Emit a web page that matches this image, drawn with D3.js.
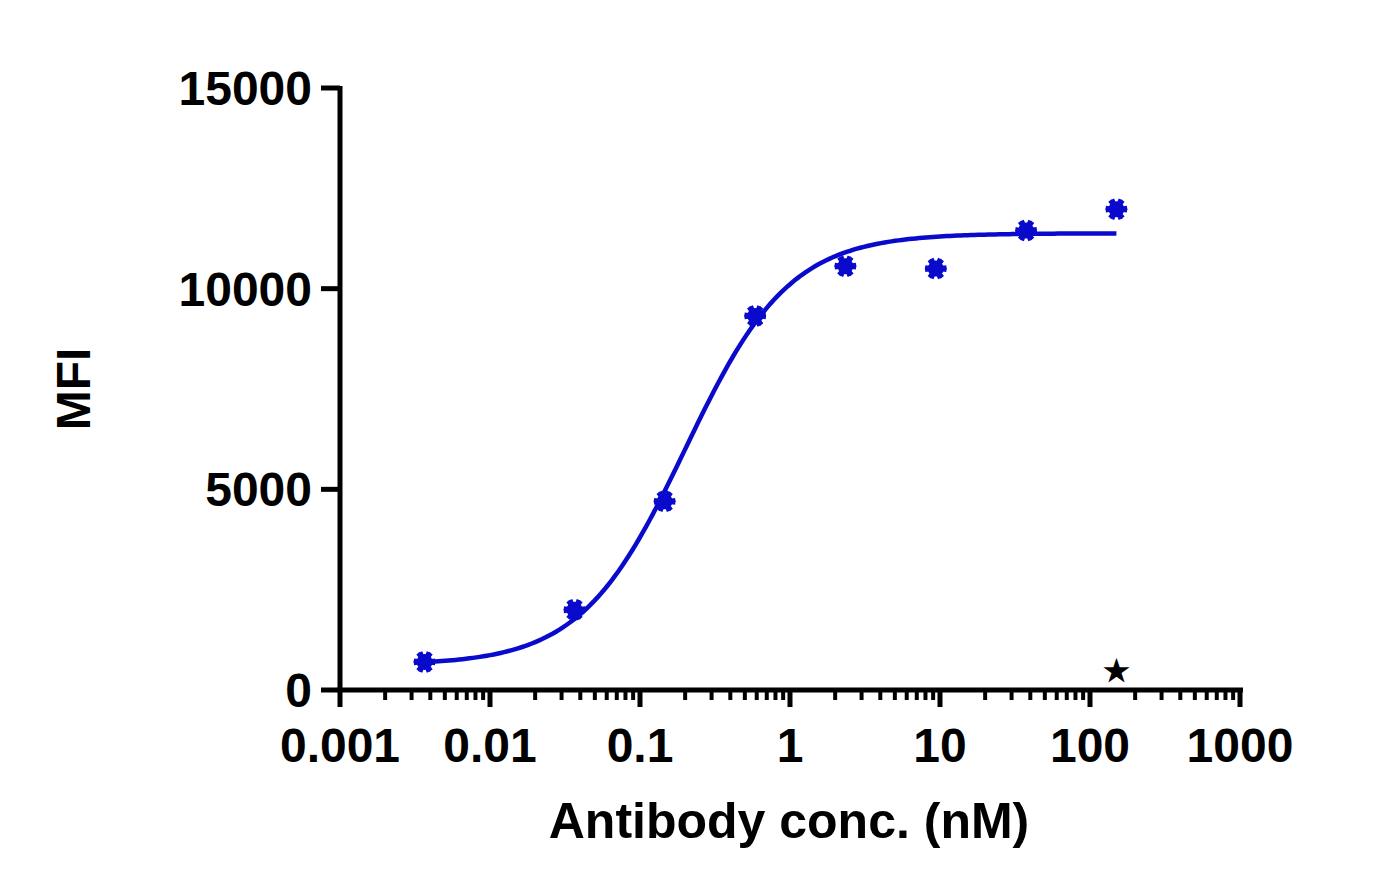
<!DOCTYPE html><html><head><script src="https://cdn.jsdelivr.net/npm/d3@7"></script>
<style>body{margin:0;background:#fff}text{font-family:"Liberation Sans",Arial,sans-serif;font-weight:bold}</style></head><body>
<svg id="c" width="1394" height="893"></svg>
<script>
const conc=[0.00366,0.0366,0.146,0.586,2.34,9.375,37.5,150];
const mfi=[700,2000,4700,9320,10560,10500,11450,11980];
const fit={bottom:620,top:11380,ec50:0.2,hill:1.25};
const yTicks=[0,5000,10000,15000];
const xTicks=[0.001,0.01,0.1,1,10,100,1000];
const svg=d3.select("#c");
const x=d3.scaleLog().domain([0.001,1000]).range([340,1240]);
const y=d3.scaleLinear().domain([0,15000]).range([690,88]);
const blue="#0a0acd";
const xa=svg.append("g").attr("transform","translate(0,690)");
const minors=[];for(let e=-3;e<3;e++)for(let m=2;m<=9;m++)minors.push(m*Math.pow(10,e));
xa.selectAll(".mi").data(minors).join("line").attr("x1",d=>x(d)).attr("x2",d=>x(d)).attr("y1",0).attr("y2",10).attr("stroke","#000").attr("stroke-width",4);
xa.selectAll(".ma").data(xTicks).join("line").attr("x1",d=>x(d)).attr("x2",d=>x(d)).attr("y1",0).attr("y2",17).attr("stroke","#000").attr("stroke-width",5);
xa.append("line").attr("x1",337).attr("x2",1243).attr("stroke","#000").attr("stroke-width",5);
xa.selectAll(".tl").data(xTicks).join("text").attr("x",d=>x(d)).attr("y",72).attr("text-anchor","middle").attr("font-size",48).text(d=>d>=1?d3.format("d")(d):String(d));
const ya=svg.append("g");
ya.append("line").attr("x1",340).attr("x2",340).attr("y1",86).attr("y2",692).attr("stroke","#000").attr("stroke-width",5);
ya.selectAll(".t").data(yTicks).join("line").attr("x1",321).attr("x2",340).attr("y1",d=>y(d)).attr("y2",d=>y(d)).attr("stroke","#000").attr("stroke-width",5);
ya.selectAll(".l").data(yTicks).join("text").attr("x",312).attr("y",d=>y(d)+17).attr("text-anchor","end").attr("font-size",48).text(d=>d);
svg.append("text").attr("x",789).attr("y",838).attr("text-anchor","middle").attr("font-size",50).text("Antibody conc. (nM)");
svg.append("text").attr("transform","translate(90,389) rotate(-90)").attr("text-anchor","middle").attr("font-size",48).text("MFI");
const f=c=>fit.bottom+(fit.top-fit.bottom)/(1+Math.pow(fit.ec50/c,fit.hill));
const cs=d3.range(0,201).map(i=>Math.pow(10,Math.log10(conc[0])+i/200*(Math.log10(conc[conc.length-1])-Math.log10(conc[0]))));
svg.append("path").attr("d",d3.line().x(d=>x(d)).y(d=>y(f(d)))(cs)).attr("fill","none").attr("stroke",blue).attr("stroke-width",4.5);
const g=svg.selectAll(".p").data(conc.map((c,i)=>[c,mfi[i]])).join("g").attr("transform",d=>`translate(${x(d[0])},${y(d[1])})`);
g.append("circle").attr("r",8).attr("fill",blue);
g.append("path").attr("d",d3.symbol(d3.symbolAsterisk,330)).attr("stroke",blue).attr("stroke-width",4).attr("fill","none").attr("transform","rotate(22.5)");
g.append("path").attr("d",d3.symbol(d3.symbolAsterisk,330)).attr("stroke",blue).attr("stroke-width",4).attr("fill","none").attr("transform","rotate(-22.5)");
svg.append("text").attr("x",x(150)).attr("y",681).attr("text-anchor","middle").attr("font-size",30).attr("font-family","DejaVu Sans").text("★");
</script></body></html>
